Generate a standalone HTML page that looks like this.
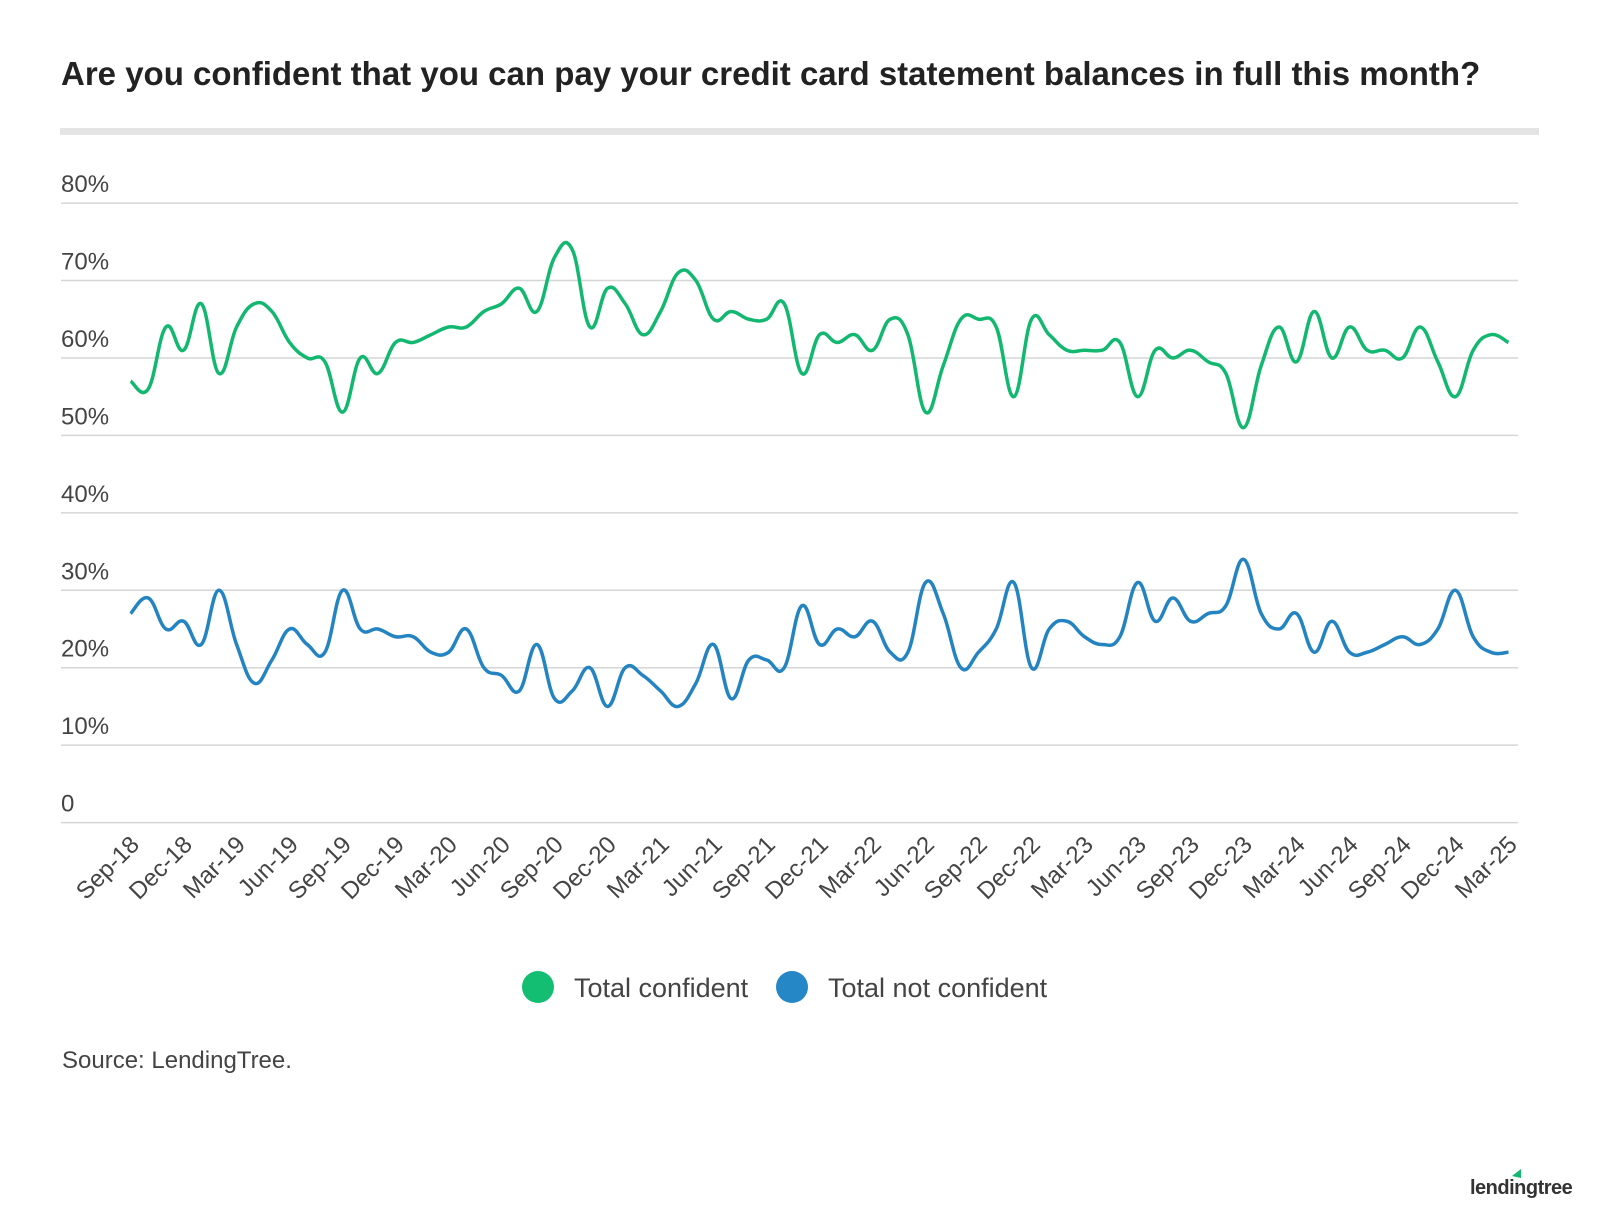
<!DOCTYPE html>
<html><head><meta charset="utf-8"><style>
body{margin:0;background:#fff;width:1600px;height:1212px;overflow:hidden;font-family:"Liberation Sans",sans-serif}
</style></head><body>
<svg id="s" width="1600" height="1212" xmlns="http://www.w3.org/2000/svg" font-family="Liberation Sans, sans-serif">
<text x="61" y="85" font-size="33" font-weight="bold" fill="#222">Are you confident that you can pay your credit card statement balances in full this month?</text>
<rect x="60" y="128" width="1479" height="7" fill="#e4e4e4"/>
<g id="grid"></g>
<g id="xl"></g>
<path id="g" fill="none" stroke="#13b870" stroke-width="3.5" stroke-linejoin="round"/>
<path id="b" fill="none" stroke="#2484c1" stroke-width="3.5" stroke-linejoin="round"/>
<circle cx="538" cy="987" r="16" fill="#13be72"/>
<text x="574" y="997" font-size="27" fill="#444">Total confident</text>
<circle cx="792" cy="987" r="16" fill="#2587c6"/>
<text x="828" y="997" font-size="27" fill="#444">Total not confident</text>
<text x="62" y="1068" font-size="24" fill="#444">Source: LendingTree.</text>
<text x="1470" y="1194" font-size="20" font-weight="bold" fill="#333" letter-spacing="-0.5">lendingtree</text>
<path d="M1512 1176 l9 -7 l0 9 z" fill="#13b870"/>
</svg>
<script>
var G=[57,56,64,61,67,58,64,67,66,62,60,59.5,53,60,58,62,62,63,64,64,66,67,69,66,73,74,64,69,67,63,66,71,70,65,66,65,65,67,58,63,62,63,61,65,63,53,59,65,65,64,55,65,63,61,61,61,62,55,61,60,61,59.5,58,51,59,64,59.5,66,60,64,61,61,60,64,59.5,55,61,63,62];
var B=[27,29,25,26,23,30,23,18,21,25,23,22,30,25,25,24,24,22,22,25,20,19,17,23,16,17,20,15,20,19,17,15,18,23,16,21,21,20,28,23,25,24,26,22,22,31,27,20,22,25,31,20,25,26,24,23,24,31,26,29,26,27,28,34,27,25,27,22,26,22,22,23,24,23,25,30,24,22,22];
var x0=130.6,dx=(1508.5-130.6)/78,y0=822.6,py=7.744;
function X(i){return x0+dx*i}function Y(v){return y0-py*v}
function path(a){var p=a.map(function(v,i){return[X(i),Y(v)]});var d="M"+p[0][0]+" "+p[0][1];
for(var i=0;i<p.length-1;i++){var p0=p[i-1]||p[i],p1=p[i],p2=p[i+1],p3=p[i+2]||p2,t=0.2;
d+=" C"+(p1[0]+(p2[0]-p0[0])*t)+" "+(p1[1]+(p2[1]-p0[1])*t)+" "+(p2[0]-(p3[0]-p1[0])*t)+" "+(p2[1]-(p3[1]-p1[1])*t)+" "+p2[0]+" "+p2[1];}return d}
document.getElementById("g").setAttribute("d",path(G));
document.getElementById("b").setAttribute("d",path(B));
var g=document.getElementById("grid"),h="";
for(var k=0;k<=8;k++){var y=Y(k*10);h+='<line x1="61" x2="1518" y1="'+y+'" y2="'+y+'" stroke="#d6d6d6" stroke-width="1.5"/>';
h+='<text x="61" y="'+(y-11)+'" font-size="24" fill="#444">'+(k?k*10+"%":"0")+'</text>';}
g.innerHTML=h;
var L=["Sep-18","Dec-18","Mar-19","Jun-19","Sep-19","Dec-19","Mar-20","Jun-20","Sep-20","Dec-20","Mar-21","Jun-21","Sep-21","Dec-21","Mar-22","Jun-22","Sep-22","Dec-22","Mar-23","Jun-23","Sep-23","Dec-23","Mar-24","Jun-24","Sep-24","Dec-24","Mar-25"];
var s="";L.forEach(function(t,j){var x=X(j*3)+10,y=846;s+='<text x="'+x+'" y="'+y+'" font-size="24" fill="#444" text-anchor="end" transform="rotate(-45 '+x+' '+y+')">'+t+'</text>';});
document.getElementById("xl").innerHTML=s;
</script>
</body></html>
